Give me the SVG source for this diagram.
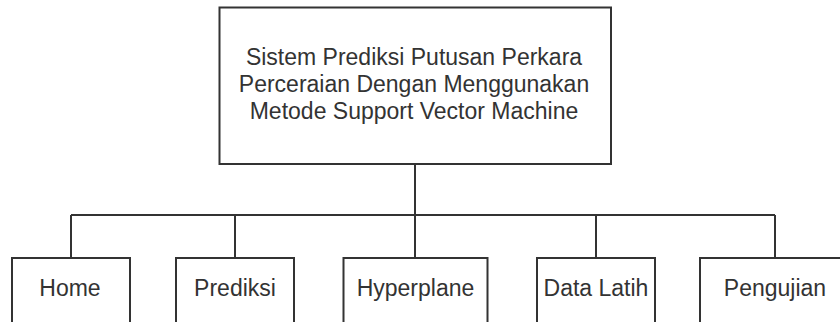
<svg xmlns="http://www.w3.org/2000/svg" width="840" height="322" viewBox="0 0 840 322">
<style>
.box{fill:#ffffff;stroke:#333333;stroke-width:2}
.t{font-family:"Liberation Sans",Arial,sans-serif;font-size:23px;fill:#333333;text-anchor:middle}
.c{fill:none;stroke:#333333;stroke-width:2}
</style>
<rect width="840" height="322" fill="#ffffff"/>
<g id="connectors">
<path class="c" d="M415,164 V215 M71,215 H775 M71,215 V258 M235,215 V258 M415,215 V258 M596,215 V258 M775,215 V258"/>
</g>
<g id="root">
<rect class="box" x="219.5" y="7.5" width="391.5" height="156.5"/>
<text class="t" x="414" y="65">Sistem Prediksi Putusan Perkara</text>
<text class="t" x="414" y="92">Perceraian Dengan Menggunakan</text>
<text class="t" x="414" y="119">Metode Support Vector Machine</text>
</g>
<g id="home">
<rect class="box" x="12" y="258" width="118" height="90"/>
<text class="t" x="70" y="296">Home</text>
</g>
<g id="prediksi">
<rect class="box" x="176" y="258" width="118" height="90"/>
<text class="t" x="235" y="296">Prediksi</text>
</g>
<g id="hyperplane">
<rect class="box" x="343.5" y="258" width="144" height="90"/>
<text class="t" x="415.5" y="296">Hyperplane</text>
</g>
<g id="datalatih">
<rect class="box" x="537" y="258" width="118" height="90"/>
<text class="t" x="596" y="296">Data Latih</text>
</g>
<g id="pengujian">
<rect class="box" x="700" y="258" width="150" height="90"/>
<text class="t" x="775" y="296">Pengujian</text>
</g>
</svg>
